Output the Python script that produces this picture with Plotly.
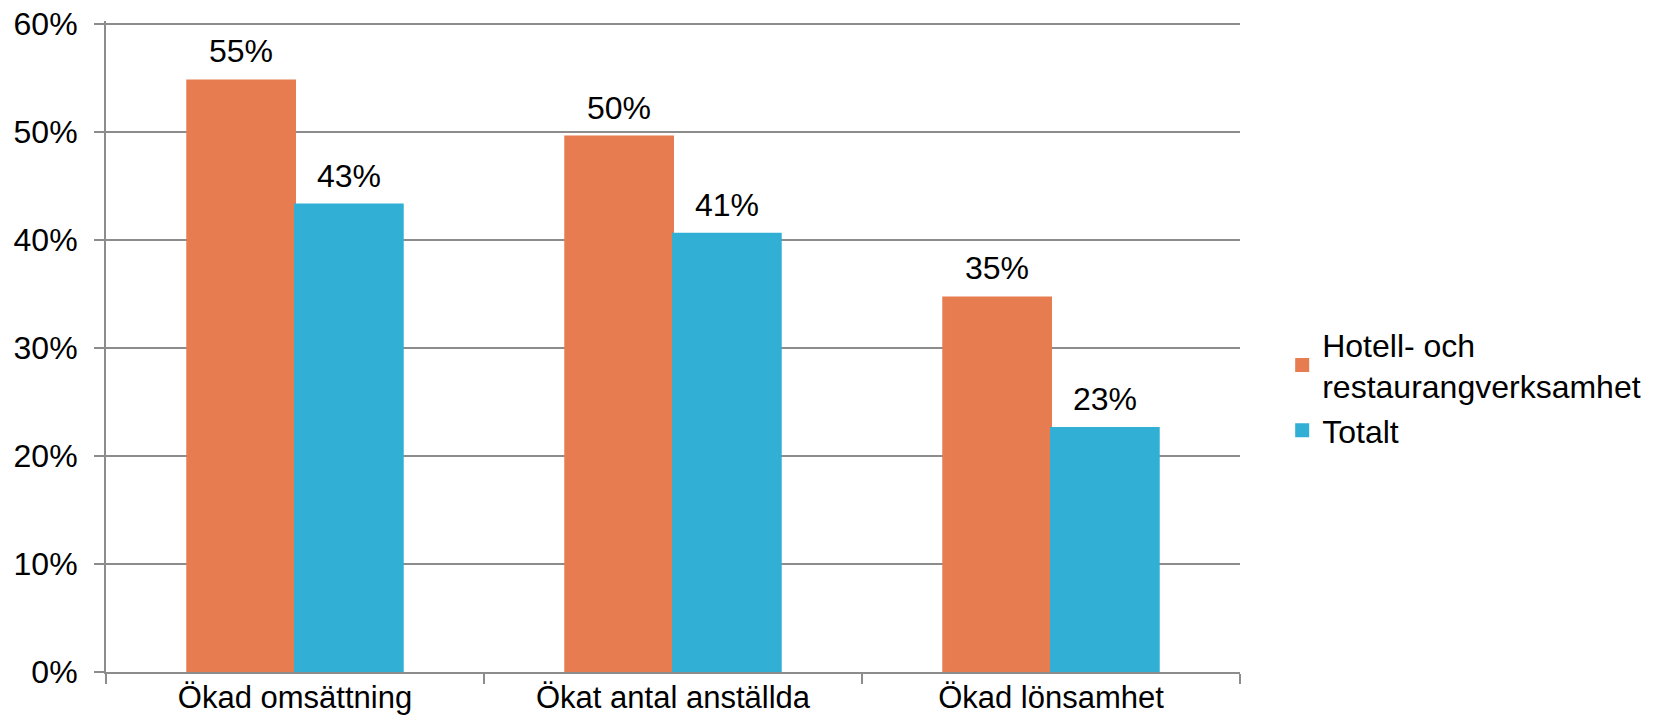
import plotly.graph_objects as go

categories = ["Ökad omsättning", "Ökat antal anställda", "Ökad lönsamhet"]
series_names = ["Hotell- och<br>restaurangverksamhet", "Totalt"]
hotell = [0.548, 0.496, 0.347]
totalt = [0.433, 0.406, 0.226]
series_values = [hotell, totalt]
series_colors = ["#E67C4F", "#31AFD5"]

FONT = "Arial, Liberation Sans, sans-serif"
GRID = "#8C8C8C"

fig = go.Figure()

for name, vals, color in zip(series_names, series_values, series_colors):
    fig.add_trace(go.Bar(
        name=name,
        x=categories,
        y=vals,
        marker_color=color,
        # same-colour outline makes the legend swatch a bit larger
        marker_line=dict(width=2, color=color),
    ))

# data labels sit well above the bars, so use annotations
shifts = [-54, 54]
for vals, dx in zip(series_values, shifts):
    for cat, v in zip(categories, vals):
        fig.add_annotation(
            x=cat, y=v, text=f"{v:.0%}", showarrow=False,
            xshift=dx, yshift=9, yanchor="bottom",
            font=dict(family=FONT, size=32, color="#000000"),
        )

# page body has an 8px margin, so the figure is a bit smaller than the window
fig.update_layout(
    width=1642,
    height=710,
    barmode="group",
    bargap=0.43,
    bargroupgap=0,
    plot_bgcolor="#ffffff",
    paper_bgcolor="#ffffff",
    font=dict(family=FONT, size=32, color="#000000"),
    margin=dict(l=98, r=410, t=13, b=46),
    showlegend=True,
    legend=dict(
        xref="container", yref="container",
        x=0.776, y=0.565, xanchor="left", yanchor="top",
        font=dict(family=FONT, size=32, color="#000000"),
        itemwidth=30, tracegroupgap=4,
        bgcolor="rgba(0,0,0,0)",
    ),
    xaxis=dict(
        automargin=False,
        showline=True, linecolor=GRID, linewidth=2,
        ticks="outside", tickson="boundaries", ticklen=10,
        tickcolor=GRID, tickwidth=2,
        showgrid=False,
        ticklabelstandoff=-3,
        tickfont=dict(family=FONT, size=31, color="#000000"),
    ),
    yaxis=dict(
        automargin=False,
        # a little headroom so the 60% gridline is not dropped at the edge
        range=[0, 0.603], dtick=0.1, tickformat=".0%",
        showline=True, linecolor=GRID, linewidth=2,
        ticks="outside", ticklen=10, tickcolor=GRID, tickwidth=2,
        showgrid=True, gridcolor=GRID, gridwidth=2,
        zeroline=False,
        ticklabelstandoff=10,
        ticklabeloverflow="allow",
        tickfont=dict(family=FONT, size=32, color="#000000"),
    ),
)

fig.write_html("out.html")
